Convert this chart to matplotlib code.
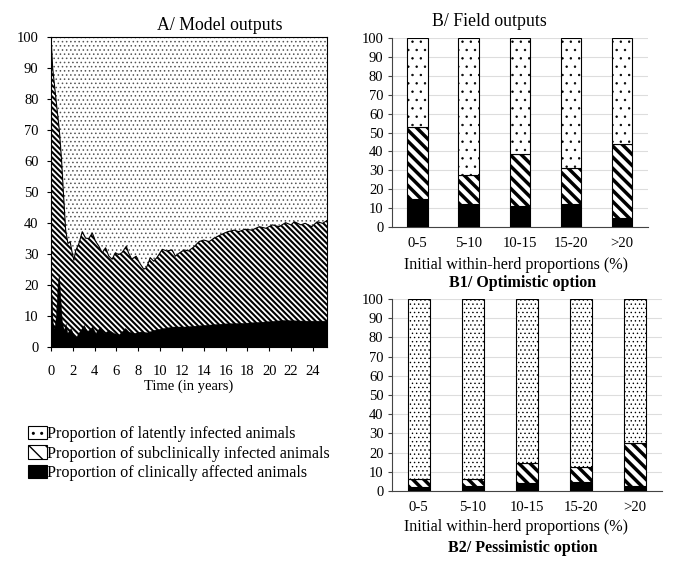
import matplotlib
matplotlib.use('Agg')
import matplotlib.pyplot as plt
from matplotlib.patches import Patch
import numpy as np

plt.rcParams['font.family'] = ['Liberation Serif', 'DejaVu Serif']

# ---------------- Data: A/ Model outputs ----------------
# cumulative top of (clinical + subclinical) in %
time_top = [0, 0.15, 0.45, 0.76, 0.97, 1.13, 1.34, 1.55, 1.75, 1.95, 2.1, 2.25, 2.56, 2.86,
            3.17, 3.47, 3.78, 4.08, 4.39, 4.69, 5.0, 5.3, 5.6, 5.9, 6.2, 6.5, 6.9, 7.1,
            7.4, 7.8, 8.1, 8.5, 8.75, 9.1, 9.4, 9.7, 10.2, 10.6, 11.1, 11.4, 11.8, 12.2,
            12.6, 13.1, 13.57, 14.0, 14.5, 14.9, 15.5, 16.2, 16.8, 17.2, 17.8, 18.4, 19.1,
            19.7, 20.3, 20.9, 21.5, 22.0, 22.3, 22.9, 23.3, 23.9, 24.4, 24.9, 25.3]
subclinical_top = [100, 90, 80, 70, 60, 50, 37.7, 33.4, 34.0, 30.2, 28.0, 31.0, 33.4, 37.2,
                   35.1, 35.0, 36.8, 34.1, 32.5, 30.4, 32.0, 29.3, 28.3, 30.4, 29.8, 30.4, 32.5, 30.4,
                   28.3, 29.3, 27.2, 25.1, 25.6, 28.8, 27.7, 28.8, 31.5, 31.0, 31.3, 29.3, 30.4, 31.3,
                   31.0, 32.3, 34.0, 34.5, 34.0, 35.0, 36.1, 37.2, 37.7, 37.2, 38.0, 37.7, 38.8,
                   38.3, 39.4, 38.8, 40.1, 39.4, 40.4, 39.4, 39.9, 38.8, 40.4, 39.9, 40.8]

# clinical proportion in %
time_clin = [0, 0.05, 0.15, 0.3, 0.45, 0.6, 0.72, 0.85, 1.0, 1.19, 1.34, 1.49, 1.8, 2.04,
             2.25, 2.7, 3.0, 3.3, 3.78, 4.08, 4.5, 4.85, 5.3, 5.76, 6.2, 6.8, 7.1, 7.6,
             8.2, 8.8, 9.4, 10.3, 11.2, 12.2, 14.0, 15.9, 17.7, 19.5, 21.3, 23.2, 25.3]
clinical = [8, 17, 8, 6, 10, 20, 23.5, 16, 8, 5.5, 7.6, 4.5, 6.1, 4.0,
            3.0, 5.5, 7.1, 5.0, 6.6, 4.5, 6.6, 4.5, 5.5, 4.5, 4.0, 6.1, 5.0, 4.5,
            5.0, 4.7, 5.5, 6.1, 6.6, 6.6, 7.1, 7.6, 7.8, 8.2, 8.7, 8.5, 8.5]

# ---------------- Data: B/ Field outputs ----------------
categories = ['0-5', '5-10', '10-15', '15-20', '>20']
b1_clinical = [15.0, 12.0, 11.2, 12.0, 4.8]
b1_subclinical = [37.7, 15.8, 27.7, 19.0, 39.4]
b1_latent = [47.3, 72.2, 61.1, 69.0, 55.8]

b2_clinical = [1.9, 2.8, 4.3, 4.9, 2.8]
b2_subclinical = [4.4, 3.3, 10.3, 7.4, 22.2]
b2_latent = [93.7, 93.9, 85.4, 87.7, 75.0]

legend_labels = ['Proportion of latently infected animals',
                 'Proportion of subclinically infected animals',
                 'Proportion of clinically affected animals']


def hatched(fn, h_lw, h_color, *args, **kw):
    with plt.rc_context({'hatch.linewidth': h_lw, 'hatch.color': h_color}):
        art = fn(*args, **kw)
    items = art.patches if hasattr(art, 'patches') else [art]
    for it in items:
        if hasattr(it, 'set_hatch_linewidth'):
            it.set_hatch_linewidth(h_lw)
    return art


fig = plt.figure(figsize=(6.85, 5.74), dpi=100)

# ---------------- Panel A ----------------
axA = fig.add_axes([0.0745, 0.3955, 0.4029, 0.540])
hatched(axA.fill_between, 0.6, '#555555', time_top, subclinical_top, 100,
        facecolor='white', edgecolor='#555555', linewidth=0, hatch='....')
hatched(axA.fill_between, 1.5, 'black', time_top, 0, subclinical_top,
        facecolor='white', edgecolor='black', linewidth=0, hatch='\\' * 6)
axA.fill_between(time_clin, 0, clinical, facecolor='black', edgecolor='black', linewidth=0.3)
axA.plot(time_top, subclinical_top, color='black', lw=0.8)
axA.set_xlim(0, 25.3)
axA.set_ylim(0, 100)
axA.set_xticks(np.arange(0, 25, 2))
axA.set_yticks(np.arange(0, 101, 10))
axA.tick_params(axis='x', direction='out', length=3, pad=10, labelsize=10.5)
axA.tick_params(axis='y', direction='out', length=3, pad=6, labelsize=10.5)
axA.set_xlabel('Time (in years)', fontsize=10.5, labelpad=1)
for s in axA.spines.values():
    s.set_linewidth(0.8)
fig.text(220 / 685, 1 - 25 / 574, 'A/ Model outputs', ha='center', va='center', fontsize=12.8)
fig.text(489 / 685, 1 - 21 / 574, 'B/ Field outputs', ha='center', va='center', fontsize=12.8)


# ---------------- Panels B1 / B2 ----------------
def bar_panel(ax, clin, sub, lat, dot_hatch, dot_color):
    x = np.arange(len(categories))
    w = 0.4
    ax.bar(x, clin, w, color='black', edgecolor='black', linewidth=0.8, zorder=3)
    hatched(ax.bar, 2.5, 'black', x, sub, w, bottom=clin, facecolor='white',
            edgecolor='black', linewidth=0.8, hatch='\\' * 3, zorder=3)
    bottom2 = np.add(clin, sub)
    hatched(ax.bar, 0.5, dot_color, x, lat, w, bottom=bottom2, facecolor='white',
            edgecolor='black', linewidth=0.8, hatch=dot_hatch, zorder=3)
    ax.set_xlim(-0.5, len(categories) - 0.5)
    ax.set_ylim(0, 100)
    ax.set_yticks(np.arange(0, 101, 10))
    ax.set_xticks(x)
    ax.set_xticklabels(categories)
    ax.yaxis.grid(True, color='#dddddd', linewidth=0.8, zorder=0)
    ax.set_axisbelow(True)
    for side in ['top', 'right']:
        ax.spines[side].set_visible(False)
    for side in ['left', 'bottom']:
        ax.spines[side].set_color('#444444')
        ax.spines[side].set_linewidth(0.8)
    ax.tick_params(axis='y', direction='out', length=3, pad=3, labelsize=10.5, color='#444444')
    ax.tick_params(axis='x', length=0, pad=7, labelsize=10.6)


axB1 = fig.add_axes([0.572, 0.6045, 0.3737, 0.329])
bar_panel(axB1, b1_clinical, b1_subclinical, b1_latent, '..', 'black')
fig.text(516 / 685, 1 - 265 / 574, 'Initial within-herd proportions (%)', ha='center', va='center', fontsize=11.6)
fig.text(523 / 685, 1 - 283 / 574, 'B1/ Optimistic option', ha='center', va='center', fontsize=11.5, fontweight='bold')

axB2 = fig.add_axes([0.572, 0.1446, 0.394, 0.3345])
bar_panel(axB2, b2_clinical, b2_subclinical, b2_latent, '....', '#555555')
fig.text(516 / 685, 1 - 527 / 574, 'Initial within-herd proportions (%)', ha='center', va='center', fontsize=11.6)
fig.text(523 / 685, 1 - 548 / 574, 'B2/ Pessimistic option', ha='center', va='center', fontsize=11.5, fontweight='bold')

# ---------------- Legend ----------------
h_lat = Patch(facecolor='white', edgecolor='black', hatch='..', linewidth=0.8)
h_sub = Patch(facecolor='white', edgecolor='black', hatch='\\\\', linewidth=0.8)
h_clin = Patch(facecolor='black', edgecolor='black', linewidth=0.8)
for h, lw in [(h_lat, 0.8), (h_sub, 2.5)]:
    if hasattr(h, 'set_hatch_linewidth'):
        h.set_hatch_linewidth(lw)
fig.legend([h_lat, h_sub, h_clin], legend_labels, loc='upper left',
           bbox_to_anchor=(28 / 685, 1 - 426 / 574), frameon=False, fontsize=11.6,
           handlelength=1.15, handleheight=0.9, handletextpad=0.05, labelspacing=0.2,
           borderpad=0, borderaxespad=0)

fig.savefig('out.png', dpi=100)
